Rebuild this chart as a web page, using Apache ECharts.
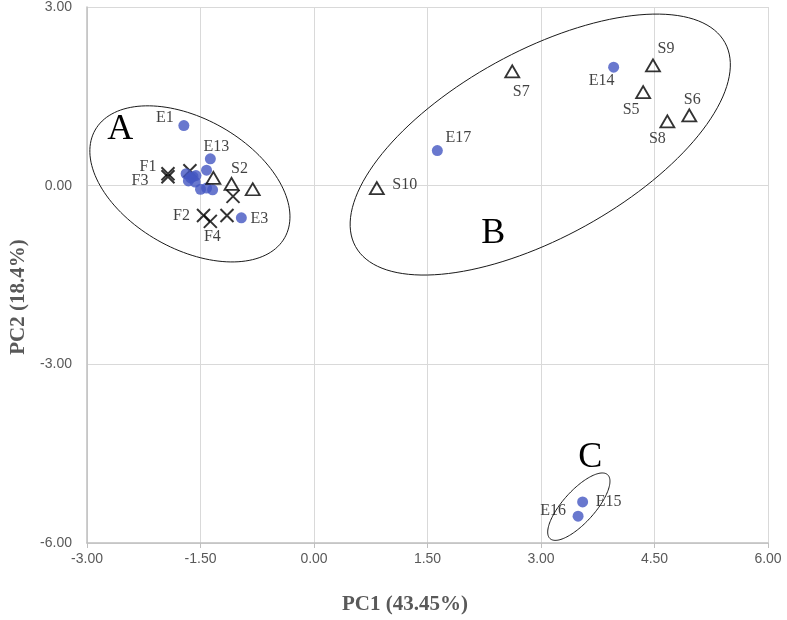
<!DOCTYPE html>
<html><head><meta charset="utf-8">
<script src="https://cdn.jsdelivr.net/npm/echarts@6/dist/echarts.min.js"></script>
<style>html,body{margin:0;padding:0;background:#fff}#c{width:787px;height:620px}</style>
</head><body><div id="c"></div>
<script>
// ---- Data (PC1, PC2 scores) ----
const eNames = ['E1','E13','E2','E4','E5','E6','E7','E8','E9','E10','E11','E12','E3','E14','E17','E15','E16'];
const eX = [-1.72,-1.37,-1.42,-1.69,-1.63,-1.56,-1.66,-1.57,-1.50,-1.42,-1.34,-1.60,-0.96, 3.96, 1.63, 3.55, 3.49];
const eY = [ 1.01, 0.45, 0.26, 0.20, 0.13, 0.17, 0.08, 0.06,-0.06,-0.04,-0.07, 0.15,-0.54, 1.99, 0.59,-5.31,-5.55];

const sNames = ['S1','S2','S4','S9','S5','S8','S6','S7','S10'];
const sX = [-1.33,-1.09,-0.81, 4.48, 4.35, 4.67, 4.96, 2.62, 0.83];
const sY = [ 0.13, 0.03,-0.06, 2.02, 1.57, 1.08, 1.18, 1.92,-0.04];

const fNames = ['F1','F3','F5','F2','F4','F6','F7'];
const fX = [-1.93,-1.93,-1.64,-1.46,-1.37,-1.15,-1.07];
const fY = [ 0.20, 0.15, 0.25,-0.50,-0.60,-0.50,-0.18];

const groupNames = ['A','B','C'];
const groupCenterX = [-1.64, 2.99, 3.50];
const groupCenterY = [ 0.03, 0.69,-5.39];
const groupLetterX = [-2.56, 2.37, 3.65];
const groupLetterY = [ 0.94,-0.81,-4.57];

const xTickMin = -3, xTickMax = 6, xTickStep = 1.5;
const yTickMin = -6, yTickMax = 3, yTickStep = 3;

// ---- Presentation (label offsets in px, ellipse shape in px) ----
const labelOffsets = {
  E1:[-19,-8], E13:[6,-12], E3:[18,1], E14:[-12,14], E17:[21,-13], E15:[26,0], E16:[-25,-5],
  S9:[13,-17], S5:[-12,18], S6:[3,-16], S8:[-10,17], S7:[9,20], S10:[28,-3], S2:[8,-15],
  F1:[-20,-7], F3:[-28,4], F2:[-22,0], F4:[2,15]
};
const ellipseShape = [{rx:109, ry:65, rot:29.6},{rx:211, ry:93, rot:-28.9},{rx:43, ry:16, rot:-48}];

const labelFont = {fontFamily:'"Liberation Serif","Times New Roman",serif', fontSize:16, color:'#111'};

function pts(names, xs, ys){
  return names.map((n,i)=>{
    const off = labelOffsets[n];
    const item = {name:n, value:[xs[i], ys[i]]};
    if (off) item.label = Object.assign({show:true, position:'inside', offset:off, formatter:n, align:'center', verticalAlign:'middle'}, labelFont);
    return item;
  });
}

const chart = echarts.init(document.getElementById('c'), null, {renderer:'canvas'});

const axisCommon = {
  type:'value',
  axisLine:{show:true, onZero:false, lineStyle:{color:'#bfbfbf', width:1.5}},
  splitLine:{show:true, lineStyle:{color:'#d9d9d9', width:1}},
  axisLabel:{color:'#595959', fontSize:14, fontFamily:'"Liberation Sans",Arial,sans-serif', formatter:v=>v.toFixed(2)}
};

chart.setOption({
  animation:false,
  backgroundColor:'#fff',
  grid:{left:87, right:19, top:6, bottom:77, containLabel:false},
  xAxis:Object.assign({}, axisCommon, {min:xTickMin, max:xTickMax, interval:xTickStep,
    axisTick:{show:true, length:5, lineStyle:{color:'#bfbfbf'}},
    axisLabel:Object.assign({}, axisCommon.axisLabel, {margin:9})}),
  yAxis:Object.assign({}, axisCommon, {min:yTickMin, max:yTickMax, interval:yTickStep,
    axisTick:{show:false},
    axisLabel:Object.assign({}, axisCommon.axisLabel, {margin:15})}),
  graphic:[
    {type:'text', x:405, y:605, style:{text:'PC1 (43.45%)', font:'bold 21px "Liberation Serif"', fill:'#595959', align:'center', verticalAlign:'middle'}},
    {type:'text', x:19, y:297, rotation:Math.PI/2, style:{text:'PC2 (18.4%)', font:'bold 21px "Liberation Serif"', fill:'#595959', align:'center', verticalAlign:'middle'}}
  ],
  series:[
    {type:'custom', z:1, silent:true, clip:false,
     data:groupNames.map((n,i)=>[groupCenterX[i], groupCenterY[i]]),
     renderItem:function(params, api){
       const i = params.dataIndex;
       const c = api.coord([api.value(0), api.value(1)]);
       const s = ellipseShape[i];
       const phi = s.rot*Math.PI/180;
       const p = [];
       for (let k=0;k<=144;k++){
         const t = k/144*2*Math.PI;
         const ex = s.rx*Math.cos(t), ey = s.ry*Math.sin(t);
         p.push([c[0]+ex*Math.cos(phi)-ey*Math.sin(phi), c[1]+ex*Math.sin(phi)+ey*Math.cos(phi)]);
       }
       return {type:'polyline', shape:{points:p}, style:{fill:null, stroke:'#1a1a1a', lineWidth:1}};
     }},
    {type:'custom', z:5, silent:true,
     data:groupNames.map((n,i)=>[groupLetterX[i], groupLetterY[i]]),
     renderItem:function(params, api){
       const c = api.coord([api.value(0), api.value(1)]);
       return {type:'text', x:c[0], y:c[1], style:{text:groupNames[params.dataIndex], font:'36px "Liberation Serif"', fill:'#000', align:'center', verticalAlign:'middle'}};
     }},
    {type:'scatter', name:'F', z:2, symbol:'path://M0,0L10,10M10,0L0,10', symbolSize:13,
     itemStyle:{color:'rgba(0,0,0,0)', borderColor:'#000', borderWidth:2},
     data:pts(fNames, fX, fY)},
    {type:'scatter', name:'E', z:3, symbol:'circle', symbolSize:11,
     itemStyle:{color:'#4356c2'},
     data:pts(eNames, eX, eY)},
    {type:'scatter', name:'S', z:4, symbol:'triangle', symbolSize:[14,12],
     itemStyle:{color:'rgba(0,0,0,0)', borderColor:'#000', borderWidth:1.8},
     data:pts(sNames, sX, sY)}
  ]
});
</script>
</body></html>
